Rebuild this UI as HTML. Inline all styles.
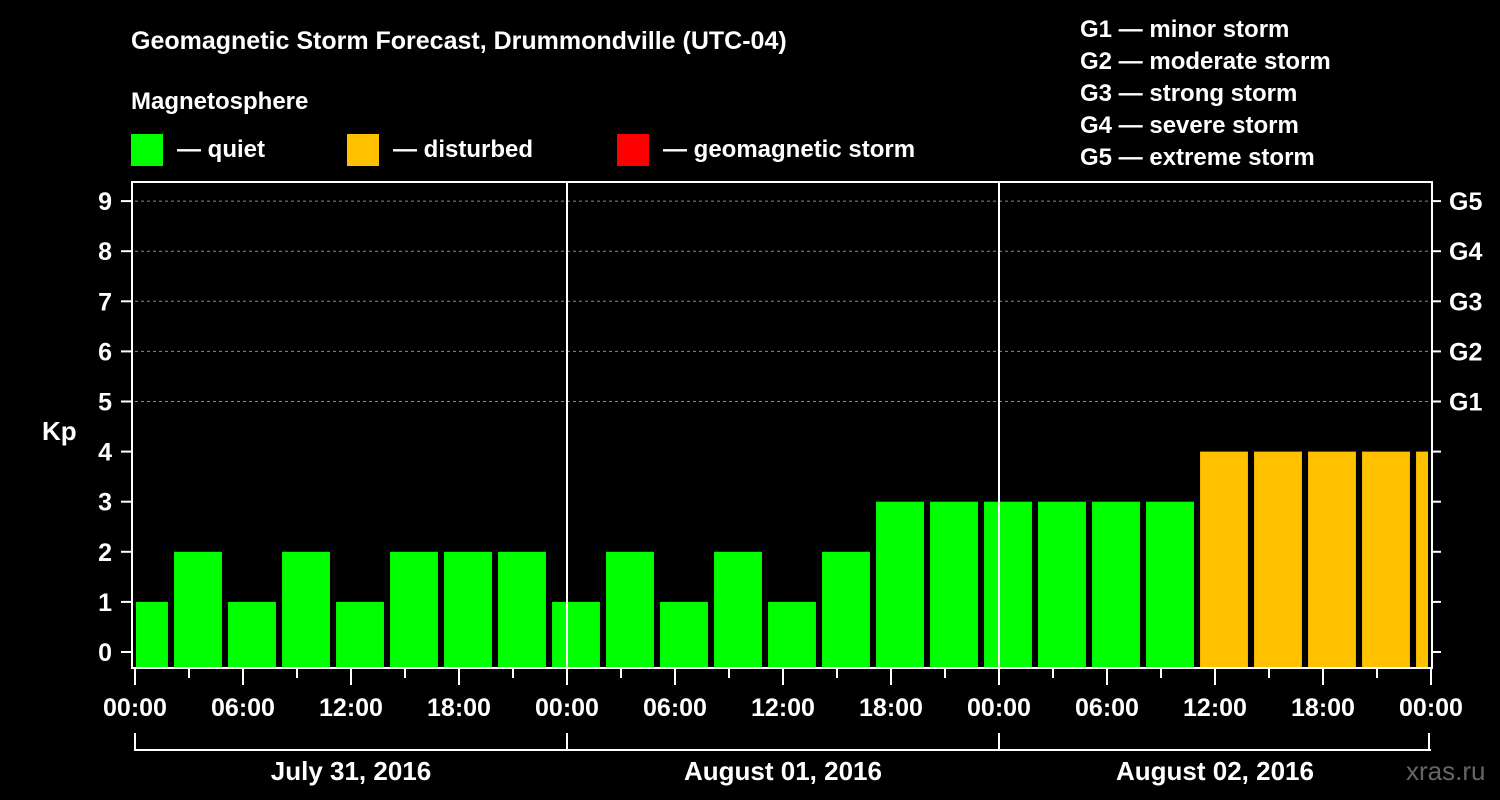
<!DOCTYPE html>
<html><head><meta charset="utf-8"><style>
html,body{margin:0;padding:0;background:#000;}
svg{display:block;font-family:"Liberation Sans",Arial,sans-serif;font-weight:bold;}
</style></head><body>
<svg id="chart" width="1500" height="800" viewBox="0 0 1500 800">
<rect width="1500" height="800" fill="#000"/>
<text x="131" y="49" fill="#fff" font-size="25">Geomagnetic Storm Forecast, Drummondville (UTC-04)</text>
<text x="131" y="109" fill="#fff" font-size="24">Magnetosphere</text>
<g><rect x="131" y="134" width="32" height="32" fill="#00ff00"/><text x="177" y="157" fill="#fff" font-size="24">— quiet</text></g>
<g><rect x="347" y="134" width="32" height="32" fill="#ffc000"/><text x="393" y="157" fill="#fff" font-size="24">— disturbed</text></g>
<g><rect x="617" y="134" width="32" height="32" fill="#ff0000"/><text x="663" y="157" fill="#fff" font-size="24">— geomagnetic storm</text></g>
<g fill="#fff" font-size="24">
<text x="1080" y="37">G1 — minor storm</text>
<text x="1080" y="69">G2 — moderate storm</text>
<text x="1080" y="101">G3 — strong storm</text>
<text x="1080" y="133">G4 — severe storm</text>
<text x="1080" y="165">G5 — extreme storm</text>
</g>
<text x="42" y="440" fill="#fff" font-size="26">Kp</text>
<text x="1406" y="780" fill="#666" font-size="26" font-weight="normal">xras.ru</text>
<g id="grid"></g><g id="bars"></g><g id="axes"></g>
</svg>
<script>
const kpValues=[1,2,1,2,1,2,2,2,1,2,1,2,1,2,3,3,3,3,3,3,4,4,4,4,4];
const kpStatus=["q","q","q","q","q","q","q","q","q","q","q","q","q","q","q","q","q","q","q","q","d","d","d","d","d"];
const yTicks=[0,1,2,3,4,5,6,7,8,9];
const gLabels=["G1","G2","G3","G4","G5"];
const timeLabels=["00:00","06:00","12:00","18:00"];
const dayLabels=["July 31, 2016","August 01, 2016","August 02, 2016"];
const NS="http://www.w3.org/2000/svg";
const X0=135,PXH=18,Y0=652,PXK=50.1,TOP=182,BOT=668,RIGHT=1432;
const xs=h=>X0+h*PXH, ys=k=>Y0-k*PXK;
function mk(t,a,p){const e=document.createElementNS(NS,t);for(const k in a)e.setAttribute(k,a[k]);p.appendChild(e);return e;}
const grid=document.getElementById('grid'),bars=document.getElementById('bars'),axes=document.getElementById('axes');
for(let k=5;k<=9;k++){const l=mk('line',{x1:X0,x2:RIGHT,y1:ys(k),y2:ys(k),stroke:'#888','stroke-dasharray':'3,3','stroke-width':1},grid);

}
kpValues.forEach((v,i)=>{const c=0.5+3*i;let x1=xs(c-1.33),x2=xs(c+1.33);x1=Math.max(x1,X0+1);x2=Math.min(x2,RIGHT-4);
const r=mk('rect',{x:x1,y:ys(v),width:x2-x1,height:667-ys(v),fill:kpStatus[i]==='d'?'#ffc000':'#00ff00'},bars);

});
for(let d=1;d<3;d++){const l=mk('line',{x1:xs(24*d),x2:xs(24*d),y1:TOP,y2:BOT,stroke:'#fff','stroke-width':2},axes);

}
const fr=mk('rect',{x:X0-3,y:TOP,width:RIGHT-X0+3,height:BOT-TOP,fill:'none',stroke:'#fff','stroke-width':2},axes);


yTicks.forEach(k=>{mk('line',{x1:121,x2:132,y1:ys(k),y2:ys(k),stroke:'#fff','stroke-width':2},axes);
mk('line',{x1:RIGHT,x2:RIGHT+9,y1:ys(k),y2:ys(k),stroke:'#fff','stroke-width':2},axes);
const t=mk('text',{x:112,y:ys(k)+9,fill:'#fff','font-size':25,'text-anchor':'end'},axes);t.textContent=k;

});
gLabels.forEach((g,i)=>{const t=mk('text',{x:1449,y:ys(5+i)+9,fill:'#fff','font-size':25},axes);t.textContent=g;

});
for(let h=0;h<=72;h+=3){const major=h%6===0;mk('line',{x1:xs(h),x2:xs(h),y1:BOT,y2:major?685:678,stroke:'#fff','stroke-width':2},axes);
if(major){const t=mk('text',{x:xs(h),y:716,fill:'#fff','font-size':25,'text-anchor':'middle'},axes);t.textContent=timeLabels[(h/6)%4];

}}
mk('line',{x1:X0,x2:RIGHT-1,y1:750,y2:750,stroke:'#fff','stroke-width':2},axes);
for(let d=0;d<=3;d++)mk('line',{x1:xs(24*d)-(d===3?2:0),x2:xs(24*d)-(d===3?2:0),y1:733,y2:751,stroke:'#fff','stroke-width':2},axes);
dayLabels.forEach((s,d)=>{const t=mk('text',{x:xs(24*d+12),y:780,fill:'#fff','font-size':26,'text-anchor':'middle'},axes);t.textContent=s;

});
</script>
</body></html>
